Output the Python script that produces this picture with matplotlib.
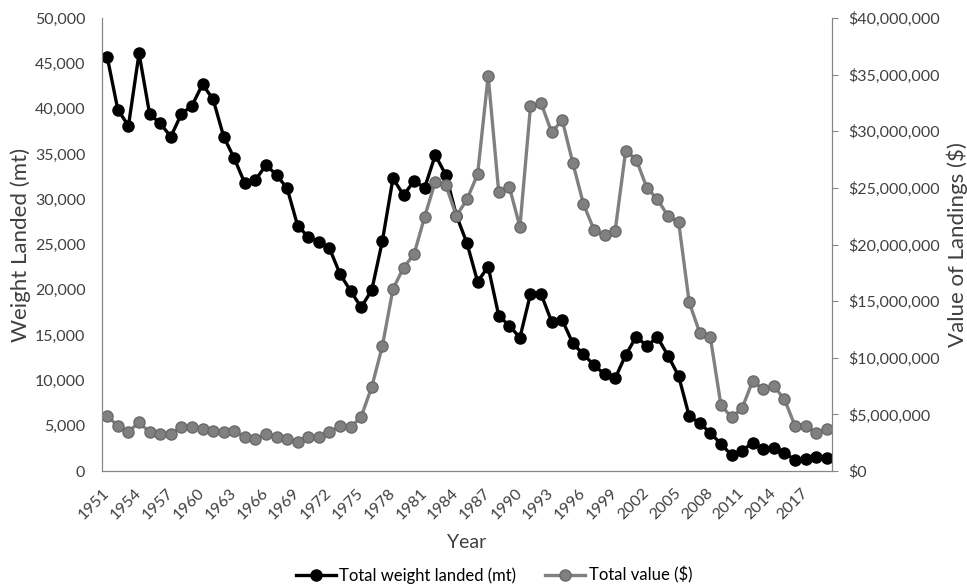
import matplotlib.pyplot as plt
from matplotlib.ticker import FuncFormatter

# data
years = list(range(1951, 2020))

weight = [45660, 39850, 38120, 46100, 39400, 38380, 36900, 39400, 40320, 42680,
          41030, 36900, 34510, 31750, 32120, 33780, 32670, 31200, 27040, 25860,
          25310, 24580, 21740, 19870, 18070, 19980, 25390, 32300, 30460, 32010,
          31270, 34880, 32670, 28200, 25130, 20900, 22550, 17140, 16040, 14720,
          19540, 19540, 16480, 16670, 14090, 12880, 11700, 10670, 10230, 12800,
          14830, 13800, 14760, 12730, 10490, 6070, 5260, 4230, 2980, 1770,
          2240, 3130, 2430, 2500, 2020, 1210, 1320, 1510, 1400]

value = [4860000, 3970000, 3470000, 4300000, 3420000, 3270000, 3270000, 3860000, 3860000, 3680000,
         3530000, 3420000, 3530000, 3030000, 2830000, 3270000, 2970000, 2800000, 2590000, 3030000,
         3030000, 3420000, 4000000, 3860000, 4800000, 7440000, 11040000, 16070000, 17950000, 19160000,
         22460000, 25550000, 25250000, 22520000, 23990000, 26200000, 34900000, 24600000, 25100000, 21550000,
         32200000, 32500000, 29900000, 31000000, 27200000, 23600000, 21300000, 20800000, 21200000, 28300000,
         27500000, 25000000, 24000000, 22500000, 22000000, 14900000, 12200000, 11800000, 5830000, 4740000,
         5530000, 7950000, 7210000, 7500000, 6330000, 4000000, 4000000, 3330000, 3680000]

tick_years = list(range(1951, 2018, 3))

calibri_like = 'Lato'
axis_grey = '#868686'
text_grey = '#404040'

fig = plt.figure(figsize=(9.67, 5.87), dpi=100)
ax = fig.add_axes([0.1055, 0.1976, 0.7549, 0.7717])
ax2 = ax.twinx()

ax.plot(years, weight, color='black', lw=2.4, marker='o', ms=8,
        mfc='black', mec='black', label='Total weight landed (mt)')
ax2.plot(years, value, color='#808080', lw=2.4, marker='o', ms=8,
         mfc='#808080', mec='#6a6a6a', mew=1, label='Total value ($)')

ax.set_xlim(1950.5, 2019.5)
ax.set_ylim(0, 50000)
ax2.set_ylim(0, 40000000)
ax.set_yticks(range(0, 50001, 5000))
ax2.set_yticks(range(0, 40000001, 5000000))
ax.yaxis.set_major_formatter(FuncFormatter(lambda v, p: '{:,.0f}'.format(v)))
ax2.yaxis.set_major_formatter(FuncFormatter(lambda v, p: '${:,.0f}'.format(v)))

ax.set_xticks(tick_years)
ax.set_xticklabels([str(y) for y in tick_years], rotation=45, ha='right', va='center',
                   rotation_mode='anchor', fontfamily=calibri_like, fontsize=11.5,
                   color=text_grey)

ax.spines['top'].set_visible(False)
ax2.spines['top'].set_visible(False)
for s in ['left', 'bottom', 'right']:
    ax2.spines[s].set_color(axis_grey)
    ax.spines[s].set_color(axis_grey)

ax.tick_params(axis='x', length=0, pad=14)
ax.tick_params(axis='y', length=0, pad=12, labelcolor=text_grey)
ax2.tick_params(axis='y', length=4, color=axis_grey, pad=8, labelcolor=text_grey)
for lab in ax2.get_yticklabels():
    lab.set_fontfamily(calibri_like)
    lab.set_fontsize(11.5)
for lab in ax.get_yticklabels():
    lab.set_fontfamily(calibri_like)
    lab.set_fontsize(11.5)

ax.set_xlabel('Year', fontfamily=calibri_like, fontsize=14, color=text_grey)
ax.xaxis.set_label_coords(0.5, -0.157)
ax.xaxis.label.set_va('center')
ax.set_ylabel('Weight Landed (mt)', fontfamily=calibri_like, fontsize=16, color=text_grey)
ax.yaxis.set_label_coords(-0.112, 0.5)
ax.yaxis.label.set_va('center')
ax2.set_ylabel('Value of Landings ($)', fontfamily=calibri_like, fontsize=16, color=text_grey)
ax2.yaxis.set_label_coords(1.171, 0.5)
ax2.yaxis.label.set_va('center')

h1, l1 = ax.get_legend_handles_labels()
h2, l2 = ax2.get_legend_handles_labels()
fig.legend(h1 + h2, l1 + l2, loc='center', bbox_to_anchor=(0.511, 0.02), ncol=2,
           frameon=False, prop={'family': calibri_like, 'size': 12},
           handlelength=2.4, columnspacing=1.75, handletextpad=0.2)

fig.savefig('out.png', dpi=100)
